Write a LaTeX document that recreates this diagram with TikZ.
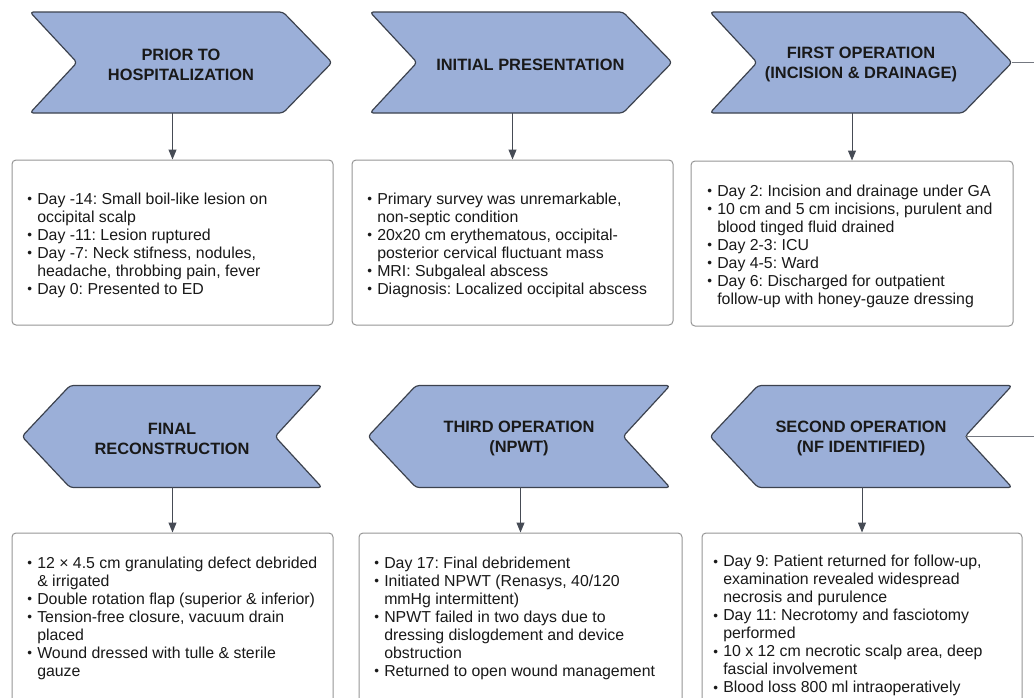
\documentclass[tikz,border=0pt]{standalone}
\usepackage{fontspec}
\setmainfont{Liberation Sans}
\usepackage{graphicx}
\usetikzlibrary{arrows.meta,calc}
\definecolor{chevfill}{RGB}{155,175,216}
\definecolor{chevline}{RGB}{60,66,78}
\definecolor{boxline}{RGB}{150,150,150}
\definecolor{arrowc}{RGB}{70,75,85}
\definecolor{txt}{RGB}{25,25,25}
\newcommand\bul{\makebox[7.5pt][l]{\raisebox{0.4pt}{\scalebox{0.85}{\textbullet}}}}
\newcommand\cont{\hspace*{7.5pt}}
\newcommand\fl{\rule{0pt}{10pt}}
\frenchspacing
\begin{document}
\frenchspacing
\begin{tikzpicture}[x=0.75pt,y=-0.75pt,
 chev/.style={fill=chevfill,draw=chevline,line width=0.9pt,rounded corners=2.5pt,line join=round},
 head/.style={font=\fontsize{12.3pt}{15pt}\selectfont\bfseries,text=txt,align=center,inner sep=0pt,minimum width=302*0.75pt,minimum height=97*0.75pt},
 box/.style={draw=boxline,line width=0.75pt,rounded corners=3pt,fill=white,inner sep=0pt},
 body/.style={font=\fontsize{11.9pt}{13.5pt}\selectfont\frenchspacing,text=txt,align=left,inner sep=0pt,anchor=north west},
 arr/.style={draw=arrowc,line width=0.75pt,-{Triangle[length=7.5pt,width=6pt]}},
 conn/.style={draw=arrowc!75,line width=0.75pt}
]
\useasboundingbox (0,0) rectangle (1034,697);
\begin{scope}
\clip (0,0) rectangle (1034,697);

% ---------- top row chevrons (pointing right)
\draw[chev] (30,12) -- ++(253,0) -- ++(49,50.5) -- ++(-49,50.5) -- ++(-253,0) -- ++(47,-50.5) -- cycle;
\node[head] (c1) at (181,64.5) {PRIOR TO\\HOSPITALIZATION};
\draw[chev] (370,12) -- ++(253,0) -- ++(49,50.5) -- ++(-49,50.5) -- ++(-253,0) -- ++(47,-50.5) -- cycle;
\node[head] (c2) at (521,64.5) {\hspace*{14pt}INITIAL PRESENTATION};
\draw[chev] (710,12) -- ++(253,0) -- ++(49,50.5) -- ++(-49,50.5) -- ++(-253,0) -- ++(47,-50.5) -- cycle;
\node[head] (c3) at (861,64.5) {FIRST OPERATION\\(INCISION \& DRAINAGE)};

% ---------- bottom row chevrons (pointing left)
\draw[chev] (22,436.5) -- ++(48,-51) -- ++(252,0) -- ++(-47,51) -- ++(47,51) -- ++(-252,0) -- cycle;
\node[head] (c6) at (172,438.5) {FINAL\\RECONSTRUCTION};
\draw[chev] (368,436.5) -- ++(48,-51) -- ++(254,0) -- ++(-47,51) -- ++(47,51) -- ++(-254,0) -- cycle;
\node[head] (c5) at (519,438.5) {THIRD OPERATION\\(NPWT)};
\draw[chev] (710,436.5) -- ++(48,-51) -- ++(254,0) -- ++(-47,51) -- ++(47,51) -- ++(-254,0) -- cycle;
\node[head] (c4) at (861,438.5) {SECOND OPERATION\\(NF IDENTIFIED)};
\coordinate (n4) at (965,436.5);

% ---------- boxes
\node[box,minimum width=321*0.75pt,minimum height=165*0.75pt] (b1) at (172.5,242.5) {};
\node[box,minimum width=321*0.75pt,minimum height=165*0.75pt] (b2) at (512.5,242.5) {};
\node[box,minimum width=322*0.75pt,minimum height=165*0.75pt] (b3) at (852,243.5) {};
\node[box,minimum width=321*0.75pt,minimum height=187*0.75pt] (b6) at (172.5,626.5) {};
\node[box,minimum width=323*0.75pt,minimum height=187*0.75pt] (b5) at (520.5,626.5) {};
\node[box,minimum width=320*0.75pt,minimum height=187*0.75pt] (b4) at (862,626.5) {};

% ---------- box texts
\node[body] (t1) at (27,190.4) {\fl\bul Day -14: Small boil-like lesion on\\
\cont occipital scalp\\
\bul Day -11: Lesion ruptured\\
\bul Day -7: Neck stifness, nodules,\\
\cont headache, throbbing pain, fever\\
\bul Day 0: Presented to ED};
\node[body] (t2) at (367,190.4) {\fl\bul Primary survey was unremarkable,\\
\cont non-septic condition\\
\bul 20x20 cm erythematous, occipital-\\
\cont posterior cervical fluctuant mass\\
\bul MRI: Subgaleal abscess\\
\bul Diagnosis: Localized occipital abscess};
\node[body] (t3) at (707,182.4) {\fl\bul Day 2: Incision and drainage under GA\\
\bul 10 cm and 5 cm incisions, purulent and\\
\cont blood tinged fluid drained\\
\bul Day 2-3: ICU\\
\bul Day 4-5: Ward\\
\bul Day 6: Discharged for outpatient\\
\cont follow-up with honey-gauze dressing};
\node[body] (t6) at (27,554.4) {\fl\bul 12 × 4.5 cm granulating defect debrided\\
\cont \& irrigated\\
\bul Double rotation flap (superior \& inferior)\\
\bul Tension-free closure, vacuum drain\\
\cont placed\\
\bul Wound dressed with tulle \& sterile\\
\cont gauze};
\node[body] (t5) at (374,554.4) {\fl\bul Day 17: Final debridement\\
\bul Initiated NPWT (Renasys, 40/120\\
\cont mmHg intermittent)\\
\bul NPWT failed in two days due to\\
\cont dressing dislogdement and device\\
\cont obstruction\\
\bul Returned to open wound management};
\node[body] (t4) at (713,553.0) {\fl\bul Day 9: Patient returned for follow-up,\\
\cont examination revealed widespread\\
\cont necrosis and purulence\\
\bul Day 11: Necrotomy and fasciotomy\\
\cont performed\\
\bul 10 x 12 cm necrotic scalp area, deep\\
\cont fascial involvement\\
\bul Blood loss 800 ml intraoperatively};

% ---------- connectors
\draw[arr] (c1.south -| b1.north) -- (b1.north);
\draw[arr] (c2.south -| b2.north) -- (b2.north);
\draw[arr] (c3.south -| b3.north) -- (b3.north);
\draw[arr] (c6.south -| b6.north) -- (b6.north);
\draw[arr] (c5.south -| b5.north) -- (b5.north);
\draw[arr] (c4.south -| b4.north) -- (b4.north);
\draw[conn] (c3.east |- 0,62.5) -- ++(45,0) |- (n4);
\end{scope}
\end{tikzpicture}
\end{document}
